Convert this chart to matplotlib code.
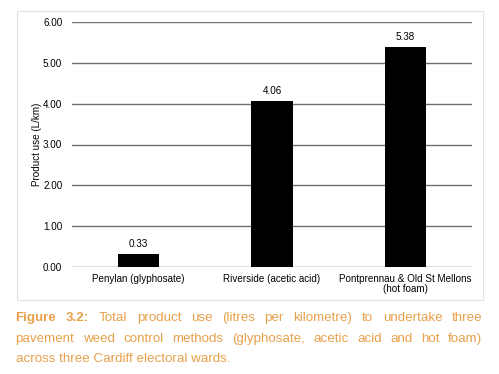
import matplotlib
matplotlib.use("Agg")
import matplotlib.pyplot as plt
from matplotlib.patches import Rectangle

plt.rcParams["font.family"] = ["Liberation Sans", "DejaVu Sans"]

# Data
wards = ["Penylan (glyphosate)", "Riverside (acetic acid)",
         "Pontprennau & Old St Mellons\n(hot foam)"]
product_use = [0.33, 4.06, 5.38]
y_ticks = [0, 1, 2, 3, 4, 5, 6]

caption_lines = [
    [("Figure", True), ("3.2:", True), ("Total", False), ("product", False),
     ("use", False), ("(litres", False), ("per", False), ("kilometre)", False),
     ("to", False), ("undertake", False), ("three", False)],
    [("pavement", False), ("weed", False), ("control", False), ("methods", False),
     ("(glyphosate,", False), ("acetic", False), ("acid", False), ("and", False),
     ("hot", False), ("foam)", False)],
    [("across three Cardiff electoral wards.", False)],
]

W, H = 499, 374
fig = plt.figure(figsize=(W / 100, H / 100), dpi=100)
fig.patch.set_facecolor("white")

# light frame around the chart
fig.patches.append(Rectangle((17 / W, 1 - 300 / H), (483 - 17) / W, (300 - 11) / H,
                             transform=fig.transFigure, fill=False,
                             edgecolor="#e2e2e2", linewidth=0.8))

fs = 7.1
ax = fig.add_axes([72 / W, 1 - 267 / H, 400 / W, (267 - 22) / H])
x = range(len(wards))
bars = ax.bar(x, product_use, width=0.31, color="black", zorder=3)
ax.set_xlim(-0.5, 2.5)
ax.set_ylim(0, 6)
ax.set_yticks(y_ticks)
ax.set_yticklabels([f"{v:.2f}" for v in y_ticks], fontsize=fs)
ax.set_xticks(list(x))
ax.set_xticklabels(wards, fontsize=fs, linespacing=1.05)
ax.tick_params(length=0, pad=7)
ax.tick_params(axis="x", pad=5)
ax.yaxis.grid(True, color="#707070", linewidth=1.0, zorder=0)
for s in ax.spines.values():
    s.set_visible(False)
ax.set_ylabel("Product use (L/km)", fontsize=fs, labelpad=1)

for b, v in zip(bars, product_use):
    ax.annotate(f"{v:.2f}", (b.get_x() + b.get_width() / 2, v),
                xytext=(0, 3.5), textcoords="offset points",
                ha="center", va="bottom", fontsize=fs)

# justified caption
orange = "#E8A04A"
left_px, right_px = 15.5, 482.5
line_y = [316.5, 337.5, 357.5]
renderer = fig.canvas.get_renderer()
for words, yy in zip(caption_lines, line_y):
    texts = []
    for w, bold in words:
        t = fig.text(0, 1 - yy / H, w, fontsize=9.6, color=orange,
                     fontweight="bold" if bold else "normal", va="center_baseline")
        texts.append(t)
    widths = [t.get_window_extent(renderer).width for t in texts]
    gap = (right_px - left_px - sum(widths)) / (len(texts) - 1) if len(texts) > 1 else 0
    xp = left_px
    for t, wd in zip(texts, widths):
        t.set_x(xp / W)
        xp += wd + gap

fig.savefig("out.png", dpi=100)
